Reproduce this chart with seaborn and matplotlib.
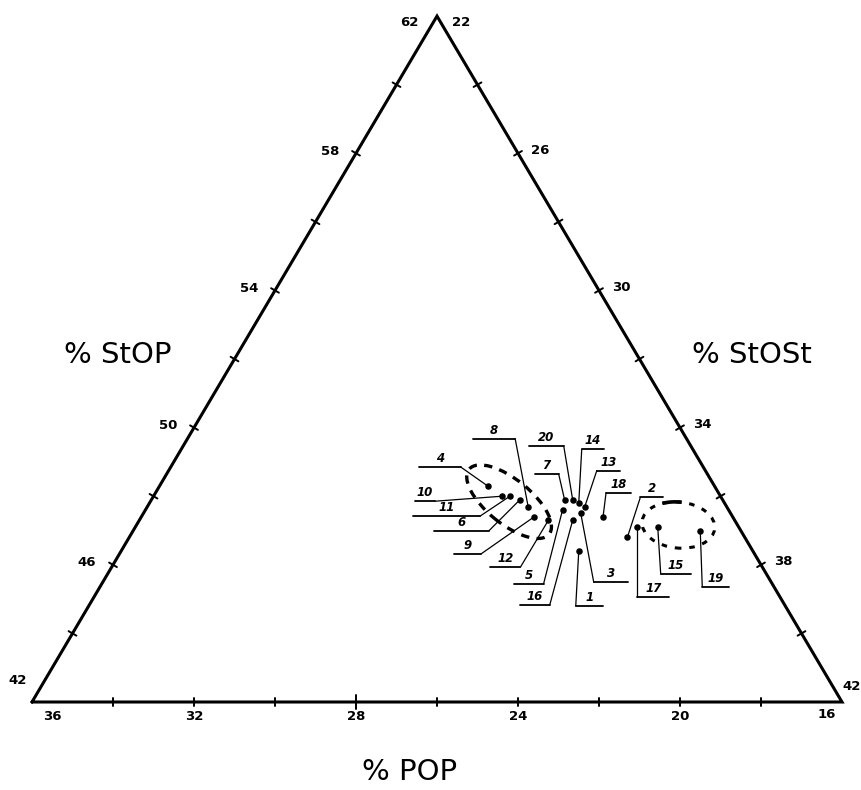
import numpy as np
import pandas as pd
import matplotlib.pyplot as plt
import seaborn as sns
from matplotlib.patches import Ellipse, Arc

# Sample compositions (% StOP, % StOSt, % POP)
sample_ids = ["1", "2", "3", "4", "5", "6", "7", "8", "9", "10",
              "11", "12", "13", "14", "15", "16", "17", "18", "19", "20"]
stop = [46.4, 46.8, 47.5, 48.3, 47.6, 47.9, 47.9, 47.7, 47.4, 48.0,
        48.0, 47.3, 47.7, 47.8, 47.1, 47.3, 47.1, 47.4, 47.0, 47.9]
stost = [33.3, 34.3, 32.8, 30.1, 32.3, 31.1, 32.2, 31.4, 31.7, 30.6,
         30.8, 32.1, 32.8, 32.6, 34.9, 32.7, 34.4, 33.4, 36.0, 32.4]
pop = [20.3, 18.9, 19.7, 21.6, 20.1, 21.0, 19.9, 20.9, 20.9, 21.4,
       21.2, 20.6, 19.5, 19.6, 18.0, 20.0, 18.5, 19.2, 17.0, 19.7]

# group envelopes: centre composition (% StOP, % StOSt)
group_centres_stop = [47.84, 47.16]
group_centres_stost = [30.86, 35.38]

# axis ranges of the sub-triangle
STOP_MIN, STOST_MIN, SPAN = 42, 22, 20
left_ticks = [44, 46, 48, 50, 52, 54, 56, 58, 60]
left_labels = [46, 50, 54, 58]
right_ticks = [24, 26, 28, 30, 32, 34, 36, 38, 40]
right_labels = [26, 30, 34, 38]
bottom_ticks = [34, 32, 30, 28, 26, 24, 22, 20, 18]
bottom_labels = [32, 28, 24, 20]

PX_X, PX_Y = 810.0, 792.0  # pixels per unit side
S3 = np.sqrt(3) / 2


def to_xy(p_stop, p_stost):
    a = (np.asarray(p_stop, float) - STOP_MIN) / SPAN
    b = (np.asarray(p_stost, float) - STOST_MIN) / SPAN
    return b + a / 2, a * S3


def px(dx, dy):
    return dx / PX_X, -dy / PX_Y


df = pd.DataFrame({"sample": sample_ids, "StOP": stop, "StOSt": stost, "POP": pop})
df["x"], df["y"] = to_xy(df["StOP"], df["StOSt"])

# label layout: elbow offset from dot (px, y down) and underline length (px)
label_layout = {
    "4": (-27, -19, -42), "10": (-67, 5, -20), "11": (-30, 20, -67),
    "6": (-31, 31, -55), "9": (-53, 37, -27), "12": (-28, 47, -30),
    "5": (-19, 74, -30), "16": (-23, 85, -30), "1": (-3, 55, 27),
    "3": (13, 69, 34), "8": (-13, -68, -42), "7": (-6, -26, -24),
    "20": (-9, -54, -35), "14": (3, -54, 22), "13": (12, -36, 23),
    "18": (3, -24, 25), "2": (13, -40, 23), "17": (0, 70, 32),
    "15": (3, 47, 30), "19": (2, 56, 27),
}

sns.set_style("white")
plt.rcParams["font.family"] = ["DejaVu Sans"]
plt.rcParams["text.color"] = "black"

fig = plt.figure(figsize=(8.62, 7.90), dpi=100)
ax = fig.add_axes([0, 0, 1, 1])
ax.set_xlim(-32 / PX_X, 830 / PX_X)
ax.set_ylim(-88 / PX_Y, 702 / PX_Y)
ax.axis("off")

# triangle frame
corners = np.array([[0, 0], [1, 0], [0.5, S3], [0, 0]])
ax.plot(corners[:, 0], corners[:, 1], color="black", lw=2.2, solid_joinstyle="miter")


def tick_mark(x, y, ang, length=9):
    nx, ny = -np.sin(ang), np.cos(ang)
    dx, dy = px(nx * length / 2, -ny * length / 2)
    ax.plot([x - dx, x + dx], [y - dy, y + dy], color="black", lw=1.4)


bold = dict(fontsize=9.5, fontweight="bold", ha="center", va="center", color="black")

# left edge (StOSt = 22)
for v in left_ticks:
    x, y = to_xy(v, STOST_MIN)
    tick_mark(x, y, np.deg2rad(60))
for v in left_labels:
    x, y = to_xy(v, STOST_MIN)
    ox, oy = px(-26, -2)
    ax.text(x + ox, y + oy, str(v), **bold)
x, y = to_xy(62, STOST_MIN)
ax.text(x + px(-28, 6)[0], y + px(-28, 6)[1], "62", **bold)
x, y = to_xy(42, STOST_MIN)
ax.text(x + px(-14, -21)[0], y + px(-14, -21)[1], "42", **bold)

# right edge (POP = 16)
for v in right_ticks:
    x, y = to_xy(84 - v, v)
    tick_mark(x, y, np.deg2rad(-60))
for v in right_labels:
    x, y = to_xy(84 - v, v)
    ox, oy = px(22, -3)
    ax.text(x + ox, y + oy, str(v), **bold)
x, y = to_xy(62, 22)
ax.text(x + px(24, 6)[0], y + px(24, 6)[1], "22", **bold)
x, y = to_xy(42, 42)
ax.text(x + px(10, -16)[0], y + px(10, -16)[1], "42", **bold)

# bottom edge (StOP = 42)
for v in bottom_ticks:
    x, y = to_xy(STOP_MIN, 58 - v)
    tick_mark(x, y, 0, length=8 if v != 28 else 14)
for v in bottom_labels:
    x, y = to_xy(STOP_MIN, 58 - v)
    ax.text(x, y + px(0, 15)[1], str(v), **bold)
x, y = to_xy(STOP_MIN, 58 - 36)
ax.text(x + px(20, 15)[0], y + px(20, 15)[1], "36", **bold)
x, y = to_xy(STOP_MIN, 58 - 16)
ax.text(x + px(-15, 13)[0], y + px(-15, 13)[1], "16", **bold)

# axis titles
title_kw = dict(fontsize=21, ha="center", va="center", color="black")
ax.text((118 - 32) / PX_X, (702 - 355) / PX_Y, "% StOP", **title_kw)
ax.text((752 - 32) / PX_X, (702 - 355) / PX_Y, "% StOSt", **title_kw)
ax.text((410 - 32) / PX_X, (702 - 772) / PX_Y, "% POP", **title_kw)

# group envelopes
gx, gy = to_xy(group_centres_stop, group_centres_stost)
ax.add_patch(Ellipse((gx[0], gy[0]), 104 / PX_X, 44 / PX_Y, angle=-40, fill=False,
                     ec="black", lw=2.4, ls=(0, (2.5, 2.2))))
ax.add_patch(Ellipse((gx[1], gy[1]), 73 / PX_X, 46 / PX_Y, angle=-6, fill=False,
                     ec="black", lw=2.2, ls=(0, (1.8, 2.6))))
ax.add_patch(Arc((gx[1], gy[1]), 73 / PX_X, 46 / PX_Y, angle=-6, theta1=88, theta2=132,
                 ec="black", lw=2.6))

# samples
sns.scatterplot(data=df, x="x", y="y", ax=ax, color="black", s=22,
                edgecolor="black", linewidth=0, legend=False, zorder=5)

# numbered leader labels
for _, r in df.iterrows():
    dx, dy, ul = label_layout[r["sample"]]
    ox, oy = px(dx, dy)
    ex, ey = r["x"] + ox, r["y"] + oy
    ax.plot([r["x"], ex], [r["y"], ey], color="black", lw=0.9)
    ux = ex + ul / PX_X
    ax.plot([ex, ux], [ey, ey], color="black", lw=1.3)
    ax.text((ex + ux) / 2, ey + 2 / PX_Y, r["sample"], fontsize=8.5, fontweight="bold",
            fontstyle="italic", ha="center", va="bottom", color="black")

fig.savefig("out.png", dpi=100)
